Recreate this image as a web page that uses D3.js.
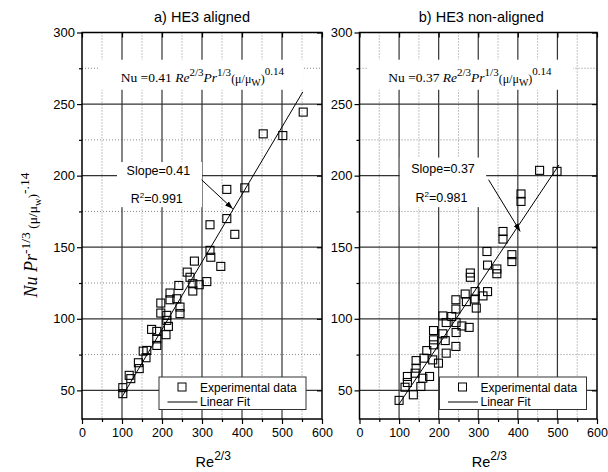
<!DOCTYPE html>
<html lang="en">
<head>
<meta charset="UTF-8">
<title>HE3 aligned / non-aligned</title>
<script src="https://d3js.org/d3.v7.min.js"></script>
<style>
  body { margin: 0; background: #fff; }
  text { font-family: "Liberation Sans", Arial, sans-serif; fill: #000; }
  .serif { font-family: "Liberation Serif", "Times New Roman", serif; }
</style>
</head>
<body>
<svg id="chart" width="608" height="472"></svg>
<script>
// axis ranges and ticks
const xDomain = [0, 600];
const yDomain = [30, 300];
const xTicks = [0, 100, 200, 300, 400, 500, 600];
const xMinor = [50, 150, 250, 350, 450, 550];
const yTicks = [50, 100, 150, 200, 250, 300];
const yMinor = [75, 125, 175, 225, 275];

// a) HE3 aligned : [Re^2/3, Nu Pr^-1/3 (mu/muw)^-.14]
const alignedPoints = [
  [102, 47.7], [102, 51.9], [118, 60.5], [122, 58.2], [141, 69.3], [143, 65.2],
  [153, 77.4], [160, 72.8], [162, 77.9], [174, 92.6], [187, 91.2], [187, 86],
  [187, 81.4], [197, 111], [197, 104], [210, 88.9], [212, 102.4], [212, 98.9],
  [216, 94.7], [220, 118], [220, 113.3], [237, 114], [242, 123.3], [245, 108.2],
  [245, 103.6], [263, 132.6], [270, 129], [277, 124.5], [277, 119.4], [281, 140.3],
  [293, 123.8], [312, 126], [320, 147.8], [322, 143], [320, 165.7], [347, 136.6],
  [362, 170], [362, 190.4], [382, 159], [407, 191.5], [453, 229.2], [502, 228],
  [553, 244.4]
];
const alignedFit = [[100, 45.5], [552, 258.5]];

// b) HE3 non-aligned
const nonAlignedPoints = [
  [100, 43], [115, 52.2], [121, 55.5], [121, 59.7], [136, 46.9], [140.5, 62],
  [143, 65.5], [143, 70.8], [155, 52.7], [160, 58.5], [163, 72.5], [170, 77.8],
  [177, 59.7], [185, 71.3], [187, 81.8], [187, 85.3], [187, 91.8], [199.5, 69],
  [210.6, 89.5], [210.6, 102], [216.5, 84.8], [219, 76], [219, 97.4], [233, 101.6],
  [243.5, 80.7], [243.5, 106.8], [243.5, 113.3], [244, 90.4], [244, 97.4], [258.7, 95],
  [267, 117.3], [270, 112], [277, 94], [280, 129], [280, 132], [292, 113.8],
  [292, 119], [295, 107.5], [312, 116], [322, 147], [323.5, 119], [323.5, 137.5],
  [347, 131.5], [347, 134.8], [362.5, 155.7], [362.5, 161], [385, 140], [385, 144.8],
  [408, 182], [408, 187.2], [455, 203.7], [499, 203]
];
const nonAlignedFit = [[100, 40.5], [504, 207.5]];

const panels = [
  {
    title: "a) HE3 aligned", coef: "0.41", slope: "Slope=0.41", r2: "0.991",
    points: alignedPoints, fit: alignedFit,
    left: 82, right: 322, titleShift: 0,
    eqBox: [45, 552, 281, 260], eqAt: [301, 265.5],
    slopeBox: [87.5, 300, 209.5, 178], slopeAt: [191, 200.5], r2At: [187, 180.7],
    arrow: [[299, 197.1], [377, 176.8]],
    legendRight: 16
  },
  {
    title: "b) HE3 non-aligned", coef: "0.37", slope: "Slope=0.37", r2: "0.981",
    points: nonAlignedPoints, fit: nonAlignedFit,
    left: 359.5, right: 597, titleShift: 3,
    eqBox: [19, 540, 281, 260], eqAt: [279, 265.5],
    slopeBox: [102, 320, 212.6, 178], slopeAt: [211, 202], r2At: [207, 181.5],
    arrow: [[326, 197.2], [406, 161]],
    legendRight: 10.5
  }
];

const plotTop = 32.5, plotBottom = 419;
const svg = d3.select("#chart");

svg.append("defs").append("marker")
  .attr("id", "head")
  .attr("viewBox", "0 -4 10 8")
  .attr("refX", 10).attr("refY", 0)
  .attr("markerWidth", 8).attr("markerHeight", 7)
  .attr("markerUnits", "userSpaceOnUse")
  .attr("orient", "auto")
  .append("path").attr("d", "M0,-3.5L10,0L0,3.5Z").attr("fill", "#000");

panels.forEach(p => {
  const x = d3.scaleLinear().domain(xDomain).range([p.left, p.right]);
  const y = d3.scaleLinear().domain(yDomain).range([plotBottom, plotTop]);
  const g = svg.append("g");

  // dotted minor grid
  g.selectAll(".vx").data(xMinor).join("line")
    .attr("x1", d => x(d)).attr("x2", d => x(d))
    .attr("y1", plotTop).attr("y2", plotBottom)
    .attr("stroke", "#888").attr("stroke-dasharray", "1,2");
  g.selectAll(".hy").data(yMinor).join("line")
    .attr("x1", p.left).attr("x2", p.right)
    .attr("y1", d => y(d)).attr("y2", d => y(d))
    .attr("stroke", "#888").attr("stroke-dasharray", "1,2");
  // solid major grid
  g.selectAll(".vX").data(xTicks.slice(1, -1)).join("line")
    .attr("x1", d => x(d)).attr("x2", d => x(d))
    .attr("y1", plotTop).attr("y2", plotBottom)
    .attr("stroke", "#333").attr("stroke-width", 1.2);
  g.selectAll(".hY").data(yTicks.slice(0, -1)).join("line")
    .attr("x1", p.left).attr("x2", p.right)
    .attr("y1", d => y(d)).attr("y2", d => y(d))
    .attr("stroke", "#333").attr("stroke-width", 1.2);

  // white boxes behind the labels
  [p.eqBox, p.slopeBox].forEach(b => {
    g.append("rect")
      .attr("x", x(b[0])).attr("y", y(b[2]))
      .attr("width", x(b[1]) - x(b[0])).attr("height", y(b[3]) - y(b[2]))
      .attr("fill", "#fff");
  });

  // axes
  const fs = sel => sel.selectAll("text").style("font-size", "12.5px");
  g.append("g").attr("transform", `translate(0,${plotBottom})`)
    .call(d3.axisBottom(x).tickValues(xTicks).tickSize(5).tickSizeOuter(0).tickPadding(4))
    .call(fs);
  g.append("g").attr("transform", `translate(0,${plotBottom})`)
    .call(d3.axisBottom(x).tickValues(xMinor).tickSize(3).tickSizeOuter(0).tickFormat(""));
  g.append("g").attr("transform", `translate(${p.left},0)`)
    .call(d3.axisLeft(y).tickValues(yTicks).tickSize(5).tickSizeOuter(0).tickPadding(2))
    .call(sel => sel.selectAll("text").style("font-size", "13px"));
  g.append("g").attr("transform", `translate(${p.left},0)`)
    .call(d3.axisLeft(y).tickValues(yMinor).tickSize(3).tickSizeOuter(0).tickFormat(""));
  g.append("g").attr("transform", `translate(0,${plotTop})`)
    .call(d3.axisTop(x).tickValues(xTicks).tickSize(-5).tickSizeOuter(0).tickFormat(""));
  g.append("g").attr("transform", `translate(${p.right},0)`)
    .call(d3.axisRight(y).tickValues(yTicks).tickSize(-5).tickSizeOuter(0).tickFormat(""));
  g.selectAll(".domain").remove();
  g.selectAll(".tick line").attr("stroke", "#000").attr("stroke-width", 1.2);

  g.append("rect")
    .attr("x", p.left).attr("y", plotTop)
    .attr("width", p.right - p.left).attr("height", plotBottom - plotTop)
    .attr("fill", "none").attr("stroke", "#000").attr("stroke-width", 1.5);

  // fit line and data
  g.append("path").datum(p.fit)
    .attr("d", d3.line().x(d => x(d[0])).y(d => y(d[1])))
    .attr("stroke", "#000").attr("stroke-width", 1).attr("fill", "none");
  const s = 8;
  g.selectAll(".pt").data(p.points).join("rect")
    .attr("x", d => x(d[0]) - s / 2).attr("y", d => y(d[1]) - s / 2)
    .attr("width", s).attr("height", s)
    .attr("fill", "none").attr("stroke", "#000").attr("stroke-width", 1.1);

  // arrow to the fit
  g.append("line")
    .attr("x1", x(p.arrow[0][0])).attr("y1", y(p.arrow[0][1]))
    .attr("x2", x(p.arrow[1][0])).attr("y2", y(p.arrow[1][1]))
    .attr("stroke", "#000").attr("stroke-width", 1)
    .attr("marker-end", "url(#head)");

  // slope and R2
  g.append("text").attr("x", x(p.slopeAt[0])).attr("y", y(p.slopeAt[1]))
    .attr("text-anchor", "middle").style("font-size", "12.5px").text(p.slope);
  const r = g.append("text").attr("x", x(p.r2At[0])).attr("y", y(p.r2At[1]))
    .attr("text-anchor", "middle").style("font-size", "12.5px");
  r.append("tspan").text("R");
  r.append("tspan").attr("dy", -5).style("font-size", "8px").text("2");
  r.append("tspan").attr("dy", 5).text("=" + p.r2);

  // correlation
  const eq = g.append("text").attr("class", "serif")
    .attr("x", x(p.eqAt[0])).attr("y", y(p.eqAt[1]))
    .attr("text-anchor", "middle").style("font-size", "13.5px");
  eq.append("tspan").text("Nu =" + p.coef + " ");
  eq.append("tspan").style("font-style", "italic").text("Re");
  eq.append("tspan").attr("dy", -5.5).style("font-size", "11px").text("2/3");
  eq.append("tspan").attr("dy", 5.5).style("font-style", "italic").text("Pr");
  eq.append("tspan").attr("dy", -5.5).style("font-size", "11px").text("1/3");
  eq.append("tspan").attr("dy", 6.5).style("font-size", "12px").text("(\u03bc/\u03bc");
  eq.append("tspan").attr("dy", 3).style("font-size", "10px").text("W");
  eq.append("tspan").attr("dy", -3).style("font-size", "12px").text(")");
  eq.append("tspan").attr("dy", -7.5).style("font-size", "11px").text("0.14");

  // title
  g.append("text").attr("x", (p.left + p.right) / 2 + p.titleShift).attr("y", 21.5)
    .attr("text-anchor", "middle").style("font-size", "14.5px").text(p.title);

  // x axis label
  const xl = g.append("text").attr("x", x(328)).attr("y", 466.5)
    .attr("text-anchor", "middle").style("font-size", "14.5px");
  xl.append("tspan").text("Re");
  xl.append("tspan").attr("dy", -7).style("font-size", "12px").text("2/3");

  // legend
  const lx = p.right - p.legendRight - 147, ly = 377;
  const lg = g.append("g").attr("transform", `translate(${lx},${ly})`);
  lg.append("rect").attr("width", 147).attr("height", 32.5)
    .attr("fill", "#fff").attr("stroke", "#333").attr("stroke-width", 1);
  lg.append("rect").attr("x", 23 - s / 2).attr("y", 10 - s / 2)
    .attr("width", s).attr("height", s)
    .attr("fill", "none").attr("stroke", "#000");
  lg.append("text").attr("x", 41).attr("y", 14.5).style("font-size", "12px").text("Experimental data");
  lg.append("line").attr("x1", 8.5).attr("x2", 38.5).attr("y1", 25).attr("y2", 25)
    .attr("stroke", "#000");
  lg.append("text").attr("x", 41).attr("y", 29).style("font-size", "12px").text("Linear Fit");
});

// y axis label
const yl = svg.append("text").attr("class", "serif")
  .attr("transform", "translate(37,235) rotate(-90)")
  .attr("text-anchor", "middle").style("font-size", "18px");
yl.append("tspan").style("font-style", "italic").text("Nu Pr");
yl.append("tspan").attr("dy", -7).style("font-size", "13.5px").text("-1/3");
yl.append("tspan").attr("dy", 7).style("font-size", "13.5px").text(" (\u03bc/\u03bc");
yl.append("tspan").attr("dy", 3.5).style("font-size", "10.5px").text("w");
yl.append("tspan").attr("dy", -3.5).style("font-size", "13.5px").text(")");
yl.append("tspan").attr("dy", -8).style("font-size", "13.5px").text("-.14");
</script>
</body>
</html>
